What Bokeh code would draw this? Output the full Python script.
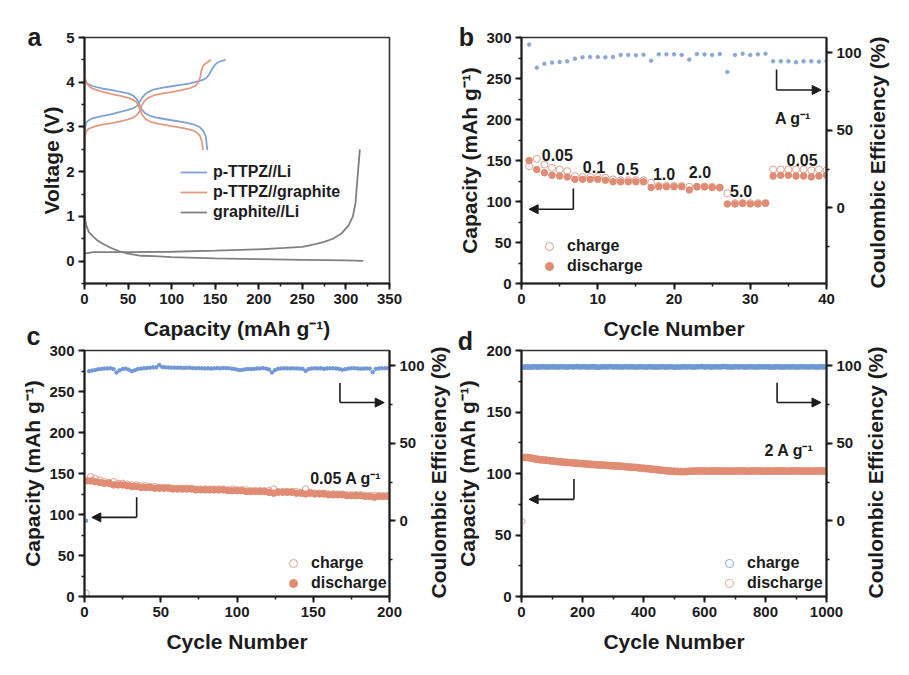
# Battery figure: voltage profile, rate test and two long cycling panels
import math

from bokeh.embed import file_html
from bokeh.layouts import column, row
from bokeh.models import Arrow, Label, Legend, LegendItem, LinearAxis, NormalHead, Range1d, SingleIntervalTicker
from bokeh.plotting import figure
from bokeh.resources import INLINE

# panel a, capacity / voltage
li_charge_x = [0, 1, 2, 5, 10, 20, 30, 40, 50, 56, 60, 63, 66, 70, 75, 80, 90, 100, 110, 120, 130, 136, 140, 143, 146, 149, 152, 156, 162]
li_charge_y = [2.7, 3.02, 3.1, 3.15, 3.2, 3.24, 3.28, 3.33, 3.38, 3.42, 3.47, 3.55, 3.65, 3.74, 3.8, 3.84, 3.88, 3.91, 3.94, 3.97, 4.02, 4.05, 4.1, 4.17, 4.28, 4.37, 4.43, 4.47, 4.5]
li_dis_x = [0, 1, 3, 6, 10, 20, 30, 40, 50, 56, 60, 63, 66, 70, 75, 85, 100, 115, 125, 132, 136, 139, 140, 141]
li_dis_y = [4.2, 4.05, 3.98, 3.94, 3.91, 3.86, 3.83, 3.79, 3.75, 3.7, 3.62, 3.5, 3.38, 3.3, 3.25, 3.2, 3.15, 3.1, 3.06, 3.0, 2.92, 2.8, 2.65, 2.48]
gr_charge_x = [0, 1, 2, 5, 10, 20, 30, 40, 50, 56, 60, 63, 65, 68, 72, 80, 90, 100, 110, 120, 127, 130, 133, 134, 136, 139, 145]
gr_charge_y = [2.5, 2.82, 2.9, 2.96, 3.0, 3.05, 3.08, 3.12, 3.17, 3.21, 3.26, 3.34, 3.45, 3.56, 3.64, 3.71, 3.75, 3.78, 3.82, 3.86, 3.92, 3.98, 4.12, 4.25, 4.36, 4.42, 4.5]
gr_dis_x = [0, 0.5, 1, 3, 6, 10, 20, 30, 40, 50, 56, 60, 63, 66, 70, 75, 85, 100, 115, 125, 130, 133, 135, 136]
gr_dis_y = [4.45, 4.2, 4.05, 3.96, 3.9, 3.85, 3.79, 3.74, 3.7, 3.65, 3.6, 3.55, 3.42, 3.28, 3.18, 3.12, 3.07, 3.02, 2.97, 2.92, 2.86, 2.78, 2.65, 2.48]
graphite_lith_x = [0, 1, 2, 5, 10, 15, 20, 30, 40, 50, 65, 80, 100, 150, 200, 250, 300, 320]
graphite_lith_y = [1.1, 0.9, 0.8, 0.65, 0.55, 0.46, 0.4, 0.3, 0.22, 0.17, 0.12, 0.11, 0.09, 0.06, 0.045, 0.03, 0.015, 0.005]
graphite_delith_x = [0, 10, 50, 100, 150, 200, 230, 250, 265, 275, 285, 295, 303, 308, 311, 313, 316]
graphite_delith_y = [0.17, 0.2, 0.2, 0.21, 0.235, 0.265, 0.295, 0.32, 0.38, 0.43, 0.5, 0.62, 0.8, 1.0, 1.3, 1.8, 2.5]

# panel b, rate test
b_cycle = list(range(1, 41))
b_charge = [143, 152, 145, 141, 139, 137, 131, 130, 130, 130, 129, 127, 126, 126, 126, 126, 123, 119, 119, 119,
            119, 118, 118, 118, 118, 117, 110, 98, 98, 98, 98, 98, 139, 139, 139, 139, 139, 138, 139, 138]
b_discharge = [150, 139, 135, 132, 131, 130, 127, 127, 127, 127, 126, 124, 124, 124, 124, 124, 117, 118, 118, 118,
               118, 114, 118, 118, 117, 117, 97, 97, 98, 97, 97, 98, 131, 132, 132, 131, 131, 130, 131, 132]
b_ce = [105.4, 90.5, 93, 93.8, 94.2, 94.6, 96.3, 97.2, 97.4, 97.4, 97.2, 97.4, 98.7, 98.7, 98.5, 98.9, 95, 99.1, 99.1, 99.1,
        98.7, 95.7, 99.3, 99.1, 98.7, 99.3, 87.7, 98.7, 99.5, 98.7, 99.1, 99.5, 94.6, 94.6, 94.6, 94, 94.6, 94.6, 94.4, 94.8]

# panel c, 0.05 A/g, charge and discharge every third cycle, CE every second
c_cycle = list(range(1, 201, 3))
c_charge = [4, 146, 144, 142, 140, 139, 140, 138, 138, 137, 136, 136, 135, 135, 134, 134, 133, 133, 133, 132, 132, 132, 132, 132, 131, 131, 131, 131, 131, 131, 131, 130, 131, 130,
            130, 130, 129, 129, 129, 129, 129, 131, 128, 128, 128, 128, 128, 127, 131, 127, 126, 126, 126, 125, 125, 125, 125, 124, 124, 124, 124, 123, 123, 123, 123, 123, 123]
c_discharge = [141, 141, 140, 139, 138, 138, 136, 136, 136, 135, 134, 134, 133, 133, 133, 132, 132, 132, 132, 131, 131, 131, 131, 131, 130, 130, 130, 130, 130, 130, 130, 129, 129, 129,
               129, 128, 128, 128, 128, 128, 127, 126, 127, 127, 127, 127, 126, 126, 125, 126, 125, 125, 125, 124, 124, 124, 124, 123, 123, 123, 123, 122, 122, 121, 122, 122, 122]
c_ce_cycle = list(range(1, 201, 2))
c_ce = [0, 96.6, 97, 97.4, 97.9, 98.1, 98.3, 98.4, 98.5, 98, 95.8, 97.2, 98, 98.3, 97.6, 96.6, 97.2, 98, 98.3, 98.5,
        98.7, 98.9, 99.1, 99.1, 100.6, 99.3, 99.1, 99, 98.9, 98.9, 98.9, 98.9, 98.7, 98.8, 98.9, 98.6, 98.5, 98.6, 98.5, 98.4,
        98.5, 98.3, 98.5, 98.6, 98.5, 98.7, 98.6, 98.5, 98.2, 97.9, 97.4, 97.4, 97.8, 98, 98, 98.1, 98.4, 98.4, 98.6, 98.3,
        97.7, 95.8, 97.4, 98.2, 98.4, 98.5, 98.5, 98.4, 98.5, 98.4, 98.3, 98.2, 96.8, 98, 98.4, 98.5, 98.4, 98.5, 98.1, 98.4,
        98.5, 98.5, 98.4, 98.1, 97.6, 97.9, 98.3, 98.5, 98.6, 98.4, 98.2, 98.3, 98.4, 98.3, 96, 98.1, 98.4, 98.5, 98.5, 98.6]

# panel d, 2 A/g, every tenth cycle
d_cycle = list(range(1, 1001, 10))
d_ce = [99.2, 99.3, 99.4, 99.2, 99.5, 99.3, 99.4, 99.5, 99.3, 99.4, 99.5, 99.4, 99.3, 99.5, 99.4, 99.3, 99.5, 99.4, 99.6, 99.4,
        99.5, 99.4, 99.3, 99.5, 99.4, 99.2, 99.4, 99.5, 99.4, 99.6, 99.4, 99.5, 99.4, 99.3, 99.5, 99.4, 99.5, 99.3, 99.4, 99.5,
        99.4, 99.3, 99.5, 99.4, 99.3, 99.4, 99.5, 99.3, 99.4, 99.5, 99.2, 99.4, 99.3, 99.5, 99.4, 99.5, 99.3, 99.4, 99.5, 99.6,
        99.4, 99.5, 99.3, 99.4, 99.5, 99.4, 99.6, 99.5, 99.4, 99.3, 99.5, 99.4, 99.5, 99.3, 99.4, 99.5, 99.4, 99.3, 99.5, 99.4,
        99.5, 99.4, 99.3, 99.4, 99.5, 99.3, 99.4, 99.5, 99.4, 99.5, 99.3, 99.4, 99.5, 99.4, 99.3, 99.5, 99.4, 99.3, 99.5, 99.4]
d_discharge = [61, 113, 113, 112.6, 112, 111.6, 111.2, 111, 110.8, 110.5, 110.2, 110, 109.6, 109.4, 109.2, 109, 108.8, 108.6, 108.4, 108.2,
               108, 107.8, 107.6, 107.4, 107.2, 107, 106.9, 106.8, 106.6, 106.4, 106.2, 106.1, 106, 105.8, 105.5, 105.3, 105.1, 105, 104.7, 104.4,
               104.2, 104, 103.7, 103.4, 103.2, 102.9, 102.6, 102.4, 102.1, 101.9, 101.8, 101.7, 101.6, 101.5, 101.6, 101.8, 101.9, 102, 102, 102.1,
               102, 101.9, 102, 102.1, 102, 102, 101.9, 102, 102, 101.9, 102, 102.1, 102, 102, 101.9, 102, 102, 102.1, 102, 101.9,
               102, 102, 101.9, 102, 102.1, 102, 102, 101.9, 102, 102, 102.1, 102, 101.9, 102, 102, 101.9, 102, 102.1, 102, 102]

FONT = "Liberation Sans"
INK = "#1c1c1c"
BLUE = "#6f98d4"
SALMON = "#e08c74"
PALE_BLUE = "#9db8e0"
PALE_SALMON = "#eeb5a4"


def panel(x_end, y_start, y_end, x_step, y_step, x_label, y_label, left, right, top, bottom, standoff=4):
    p = figure(frame_width=305, frame_height=246, x_range=Range1d(0, x_end), y_range=Range1d(y_start, y_end),
               output_backend="svg", toolbar_location=None, min_border_left=left, min_border_right=right,
               min_border_top=top, min_border_bottom=bottom, border_fill_color=None, background_fill_color="white")
    p.grid.visible = False
    p.outline_line_color = "#333333"
    p.outline_line_width = 1.6
    p.xaxis.ticker = SingleIntervalTicker(interval=x_step, num_minor_ticks=2)
    p.yaxis.ticker = SingleIntervalTicker(interval=y_step, num_minor_ticks=2)
    p.xaxis.axis_label = x_label
    p.yaxis.axis_label = y_label
    p.xaxis.axis_label_standoff = 10
    p.yaxis.axis_label_standoff = standoff
    style_axis(p.xaxis)
    style_axis(p.yaxis)
    return p


def style_axis(ax):
    ax.axis_line_color = INK
    ax.axis_line_width = 2
    ax.major_tick_line_color = INK
    ax.major_tick_line_width = 2
    ax.major_tick_in = 0
    ax.major_tick_out = 6
    ax.minor_tick_line_color = INK
    ax.minor_tick_line_width = 1.5
    ax.minor_tick_in = 0
    ax.minor_tick_out = 3
    ax.major_label_text_font = FONT
    ax.major_label_text_font_style = "bold"
    ax.major_label_text_font_size = "15px"
    ax.major_label_text_color = INK
    ax.major_label_standoff = 4
    ax.axis_label_text_font = FONT
    ax.axis_label_text_font_style = "bold"
    ax.axis_label_text_font_size = "21px"
    ax.axis_label_text_color = INK


def add_ce_axis(p):
    p.extra_y_ranges = {"ce": Range1d(-49, 110)}
    ax = LinearAxis(y_range_name="ce", ticker=SingleIntervalTicker(interval=50, num_minor_ticks=2))
    style_axis(ax)
    p.add_layout(ax, "right")


def text(p, x, y, s, size="16px", angle=0):
    p.add_layout(Label(x=x, y=y, text=s, angle=angle, text_font=FONT, text_font_style="bold", text_font_size=size,
                       text_color=INK, text_align="center", text_baseline="middle"))


def bracket(p, x, y_top, y_low, x_tip):
    # the little L with an arrow head that says which axis a curve belongs to
    p.add_layout(Arrow(end=None, x_start=x, y_start=y_top, x_end=x, y_end=y_low, line_color=INK, line_width=1.6))
    p.add_layout(Arrow(end=NormalHead(size=9, fill_color=INK, line_color=INK), x_start=x, y_start=y_low,
                       x_end=x_tip, y_end=y_low, line_color=INK, line_width=1.6))


def add_legend(p, items, x, y, glyph_width=20, standoff=8):
    leg = Legend(items=items, location=(x, y), background_fill_alpha=0, border_line_color=None, margin=0, padding=0,
                 spacing=0, glyph_width=glyph_width, glyph_height=20, label_height=20, label_standoff=standoff,
                 label_text_font=FONT, label_text_font_style="bold", label_text_font_size="16px", label_text_color=INK)
    p.add_layout(leg, "center")


# a
pa = panel(350, -0.5, 5, 50, 1, "Capacity (mAh g\u207b\u00b9)", "Voltage (V)", 84, 63, 37, 67, standoff=0)
r1 = pa.line(li_charge_x, li_charge_y, line_color="#7fa3d2", line_width=1.8)
pa.line(li_dis_x, li_dis_y, line_color="#7fa3d2", line_width=1.8)
r2 = pa.line(gr_charge_x, gr_charge_y, line_color="#e59a80", line_width=1.8)
pa.line(gr_dis_x, gr_dis_y, line_color="#e59a80", line_width=1.8)
r3 = pa.line(graphite_lith_x, graphite_lith_y, line_color="#808080", line_width=1.8)
pa.line(graphite_delith_x, graphite_delith_y, line_color="#808080", line_width=1.8)
add_legend(pa, [LegendItem(label="p-TTPZ//Li", renderers=[r1]), LegendItem(label="p-TTPZ//graphite", renderers=[r2]),
                LegendItem(label="graphite//Li", renderers=[r3])], 96, 61, glyph_width=27, standoff=6)

# b
pb = panel(40, 0, 300, 10, 50, "Cycle Number", "Capacity (mAh g\u207b\u00b9)", 69, 75, 37, 67, standoff=2)
add_ce_axis(pb)
pb.scatter(b_cycle, b_ce, y_range_name="ce", size=3.5, marker="circle", color="#8aa8d4")
rc = pb.scatter(b_cycle, b_charge, size=7, marker="circle", fill_color=None, line_color="#dba090", line_width=1)
rd = pb.scatter(b_cycle, b_discharge, size=6.5, marker="circle", color=SALMON)
add_legend(pb, [LegendItem(label="charge", renderers=[rc]), LegendItem(label="discharge", renderers=[rd])], 18, 7)
bracket(pb, 6.8, 116, 90.6, 1.0)
bracket(pb, 33.45, 261, 236, 39.3)
for x, y, s in [(4.7, 157, "0.05"), (9.5, 142, "0.1"), (13.9, 140, "0.5"), (18.7, 133, "1.0"),
                (23.4, 136, "2.0"), (28.8, 113, "5.0"), (36.8, 151, "0.05"), (35.6, 201, "A g\u207b\u00b9")]:
    text(pb, x, y, s)

# c
pc = panel(200, 0, 300, 50, 50, "Cycle Number", "Capacity (mAh g\u207b\u00b9)", 84, 63, 14, 70, standoff=2)
add_ce_axis(pc)
pc.scatter(c_ce_cycle, c_ce, y_range_name="ce", size=3.5, marker="circle", color=BLUE)
rc = pc.scatter(c_cycle, c_charge, size=6.5, marker="circle", fill_color=None, line_color="#dba090", line_width=1)
rd = pc.scatter(c_cycle, c_discharge, size=6.5, marker="circle", color=SALMON)
add_legend(pc, [LegendItem(label="charge", renderers=[rc]), LegendItem(label="discharge", renderers=[rd])], 199, 3)
bracket(pc, 34.2, 121, 96.5, 4.8)
bracket(pc, 167.5, 260.5, 236.5, 196.5)
text(pc, 171.5, 144.5, "0.05 A g\u207b\u00b9")

# d, the first point of each series is a pale ring, the rest merge into a solid band
pd = panel(1000, 0, 200, 200, 50, "Cycle Number", "Capacity (mAh g\u207b\u00b9)", 69, 75, 14, 70)
add_ce_axis(pd)
rc = pd.scatter(d_cycle[:1], d_ce[:1], y_range_name="ce", size=5, marker="circle", fill_color=None, line_color=PALE_BLUE, line_width=1.2)
pd.scatter(d_cycle[1:], d_ce[1:], y_range_name="ce", size=5, marker="circle", color=BLUE)
rd = pd.scatter(d_cycle[:1], d_discharge[:1], size=6, marker="circle", fill_color=None, line_color=PALE_SALMON, line_width=1.2)
pd.scatter(d_cycle[1:], d_discharge[1:], size=7, marker="circle", color=SALMON)
add_legend(pd, [LegendItem(label="charge", renderers=[rc]), LegendItem(label="discharge", renderers=[rd])], 198, 3)
bracket(pd, 172, 95.5, 79, 25)
bracket(pd, 838, 173.7, 157.7, 982)
text(pd, 878, 118.6, "2 A g\u207b\u00b9")

# clear sheet over the whole page for the texts that lie outside a frame, in page pixels
sheet = figure(frame_width=901, frame_height=666, x_range=Range1d(0, 901), y_range=Range1d(666, 0), output_backend="svg",
               toolbar_location=None, min_border=0, border_fill_color=None, background_fill_color=None, outline_line_color=None)
sheet.axis.visible = False
sheet.grid.visible = False
for x, y, s in [(34, 36, "a"), (466, 36, "b"), (33, 335, "c"), (465, 340, "d")]:
    text(sheet, x, y, s, "25px")
for x, y in [(877, 162), (438, 472), (875, 472)]:
    text(sheet, x, y, "Coulombic Efficiency (%)", "21px", math.pi / 2)

# bottom row slides up under the x labels of the top row
pc.margin = (-14, 0, 0, 0)
pd.margin = (-14, 0, 0, 0)
sheet.margin = (-666, 0, 0, 0)
page = column(row(pa, pb), row(pc, pd), sheet)

open("out.html", "w").write(file_html(page, INLINE))
